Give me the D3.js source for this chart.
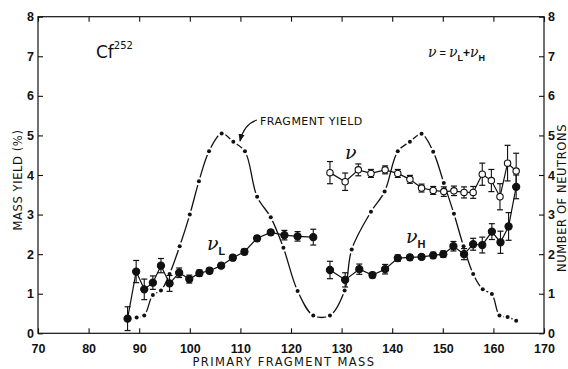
<!DOCTYPE html>
<html>
<head>
<meta charset="utf-8">
<script src="https://cdn.jsdelivr.net/npm/d3@7/dist/d3.min.js"></script>
<style>
  html, body { margin: 0; padding: 0; background: #fff; }
  svg { display: block; }
  text { font-family: "Liberation Sans", Arial, sans-serif; fill: #111; }
</style>
</head>
<body>
<svg id="chart" width="568" height="369"></svg>
<script>
// Fragment mass yield of Cf-252 (left scale, %)
const yieldMass = [89.5, 91, 92.7, 94.3, 96, 98, 100, 101.8, 103.8, 106.3, 108.6, 110.9, 113.3, 116, 118.5, 121.3,
  124.4, 127.7, 130.6, 132, 135.8, 138.5, 141.1, 143.5, 145.8, 148.1, 150.2, 152.2, 154.1, 156, 157.9, 159.7, 161.2, 162.8, 164.5];
const yieldValue = [0.4, 0.45, 0.97, 1.08, 1.5, 2.2, 3.0, 3.84, 4.6, 5.05, 4.84, 4.6, 3.45, 2.93, 2.16, 1.07,
  0.45, 0.45, 1.08, 2.12, 3.07, 3.58, 4.6, 4.84, 5.04, 4.59, 3.8, 3.02, 2.2, 1.5, 1.11, 0.99, 0.45, 0.41, 0.32];

// Neutrons from the light fragment (right scale)
const nuLMass = [87.7, 89.4, 91, 92.7, 94.3, 96, 97.9, 99.9, 101.9, 103.9, 106.2, 108.5, 110.8, 113.3, 116, 118.7, 121.3, 124.4];
const nuLValue = [0.37, 1.56, 1.11, 1.28, 1.71, 1.26, 1.53, 1.37, 1.52, 1.58, 1.71, 1.91, 2.06, 2.4, 2.55, 2.48, 2.45, 2.43];
const nuLError = [0.3, 0.28, 0.26, 0.17, 0.18, 0.2, 0.12, 0.1, 0.08, 0.07, 0.06, 0.07, 0.07, 0.07, 0.06, 0.12, 0.12, 0.2];

// Neutrons from the heavy fragment
const nuHMass = [127.7, 130.7, 133.5, 136.1, 138.6, 141.1, 143.5, 145.8, 148.1, 150.1, 152.1, 154.2, 156.0, 157.8, 159.7, 161.4, 163.0, 164.5];
const nuHValue = [1.6, 1.35, 1.62, 1.47, 1.62, 1.9, 1.92, 1.93, 1.97, 2.0, 2.2, 2.0, 2.25, 2.23, 2.57, 2.3, 2.7, 3.7];
const nuHError = [0.22, 0.18, 0.13, 0.07, 0.12, 0.08, 0.07, 0.06, 0.08, 0.08, 0.12, 0.14, 0.15, 0.2, 0.2, 0.28, 0.35, 0.3];

// Total neutrons per fission, nu = nuL + nuH
const nuMass = [127.7, 130.7, 133.3, 135.8, 138.6, 141.1, 143.5, 145.8, 148.1, 150.2, 152.2, 154.2, 156.0, 157.8, 159.6, 161.3, 162.8, 164.5];
const nuValue = [4.06, 3.83, 4.13, 4.04, 4.13, 4.04, 3.89, 3.67, 3.61, 3.58, 3.6, 3.56, 3.56, 4.02, 3.86, 3.45, 4.3, 4.1];
const nuError = [0.28, 0.22, 0.15, 0.1, 0.1, 0.1, 0.1, 0.1, 0.1, 0.12, 0.12, 0.14, 0.15, 0.28, 0.28, 0.33, 0.45, 0.45];

const massTicks = [70, 80, 90, 100, 110, 120, 130, 140, 150, 160, 170];
const valueTicks = [0, 1, 2, 3, 4, 5, 6, 7, 8];

const svg = d3.select("#chart");
const plotLeft = 38, plotRight = 544, plotTop = 16.7, plotBottom = 333.3;

const x = d3.scaleLinear().domain([70, 170]).range([plotLeft, plotRight]);
const y = d3.scaleLinear().domain([0, 8]).range([plotBottom, plotTop]);

// Axes with inward ticks on all four sides
function styleAxis(g) {
  g.select(".domain").remove();
  g.selectAll(".tick line").attr("stroke", "#111").attr("stroke-width", 1.1);
  g.selectAll(".tick text").style("font-size", "12.5px").style("font-weight", "bold")
    .style("font-family", "'Liberation Sans', Arial, sans-serif").attr("fill", "#111");
}
svg.append("g").attr("transform", `translate(0,${plotBottom})`)
  .call(d3.axisBottom(x).tickValues(massTicks).tickSize(-5).tickPadding(11).tickFormat(d3.format("d")))
  .call(styleAxis);
svg.append("g").attr("transform", `translate(0,${plotTop})`)
  .call(d3.axisTop(x).tickValues(massTicks).tickSize(-5).tickFormat(""))
  .call(styleAxis);
svg.append("g").attr("transform", `translate(${plotLeft},0)`)
  .call(d3.axisLeft(y).tickValues(valueTicks).tickSize(-5).tickPadding(4).tickFormat(d3.format("d")))
  .call(styleAxis);
svg.append("g").attr("transform", `translate(${plotRight},0)`)
  .call(d3.axisRight(y).tickValues(valueTicks).tickSize(-5).tickPadding(4).tickFormat(d3.format("d")))
  .call(styleAxis);

svg.append("rect").attr("x", plotLeft).attr("y", plotTop).attr("width", plotRight - plotLeft).attr("height", plotBottom - plotTop)
  .attr("fill", "none").attr("stroke", "#111").attr("stroke-width", 1.2);

// Fragment yield: smooth curve broken around each dot
const yieldPts = yieldMass.map((m, i) => [m, yieldValue[i]]);
const yieldLine = d3.line().x(d => x(d[0])).y(d => y(d[1])).curve(d3.curveCatmullRom.alpha(0.5));
svg.append("path").attr("d", yieldLine(yieldPts)).attr("fill", "none").attr("stroke", "#111").attr("stroke-width", 1.3);
svg.append("g").selectAll("circle").data(yieldPts).join("circle")
  .attr("cx", d => x(d[0])).attr("cy", d => y(d[1])).attr("r", 4).attr("fill", "#fff");
svg.append("g").selectAll("circle").data(yieldPts).join("circle")
  .attr("cx", d => x(d[0])).attr("cy", d => y(d[1])).attr("r", 2).attr("fill", "#111");

// Neutron series: connecting line, error bars and markers
function neutronSeries(mass, value, err, open) {
  const pts = mass.map((m, i) => ({ m, v: value[i], e: err[i] }));
  const g = svg.append("g");
  g.append("path").attr("d", d3.line().x(d => x(d.m)).y(d => y(d.v))(pts))
    .attr("fill", "none").attr("stroke", "#111").attr("stroke-width", 1.2);
  const eb = g.append("g").selectAll("g").data(pts).join("g");
  eb.append("line").attr("x1", d => x(d.m)).attr("x2", d => x(d.m))
    .attr("y1", d => y(d.v - d.e)).attr("y2", d => y(d.v + d.e)).attr("stroke", "#111").attr("stroke-width", 1.1);
  [-1, 1].forEach(s => {
    eb.append("line").attr("x1", d => x(d.m) - 3).attr("x2", d => x(d.m) + 3)
      .attr("y1", d => y(d.v + s * d.e)).attr("y2", d => y(d.v + s * d.e)).attr("stroke", "#111").attr("stroke-width", 1.2);
  });
  g.append("g").selectAll("circle").data(pts).join("circle")
    .attr("cx", d => x(d.m)).attr("cy", d => y(d.v)).attr("r", open ? 3.2 : 3.6)
    .attr("fill", open ? "#fff" : "#111").attr("stroke", "#111").attr("stroke-width", 1.1);
}
neutronSeries(nuLMass, nuLValue, nuLError, false);
neutronSeries(nuHMass, nuHValue, nuHError, false);
neutronSeries(nuMass, nuValue, nuError, true);

// Annotations
const nuFont = "'DejaVu Serif', serif";
const cf = svg.append("text").attr("x", 96).attr("y", 58).style("font-size", "17px").style("font-family", "'DejaVu Sans', sans-serif");
cf.append("tspan").text("Cf");
cf.append("tspan").attr("dy", -9).style("font-size", "10px").text("252");

const eq = svg.append("text").attr("x", 428).attr("y", 57).style("font-size", "14px");
eq.append("tspan").style("font-family", nuFont).style("font-style", "italic").text("ν");
eq.append("tspan").style("font-size", "11px").text(" = ");
eq.append("tspan").style("font-family", nuFont).style("font-style", "italic").text("ν");
eq.append("tspan").attr("dy", 4).style("font-size", "9px").style("font-weight", "bold").text("L");
eq.append("tspan").attr("dy", -4).style("font-size", "12px").style("font-weight", "bold").text("+");
eq.append("tspan").style("font-family", nuFont).style("font-style", "italic").text("ν");
eq.append("tspan").attr("dy", 4).style("font-size", "9px").style("font-weight", "bold").text("H");

function nuLabel(xp, yp, sub) {
  const t = svg.append("text").attr("x", xp).attr("y", yp).style("font-size", "19px");
  t.append("tspan").style("font-family", nuFont).style("font-style", "italic").text("ν");
  if (sub) t.append("tspan").attr("dy", 5).style("font-size", "11px").style("font-weight", "bold").text(sub);
}
nuLabel(345, 159, "");
nuLabel(207, 250, "L");
nuLabel(406, 243, "H");

svg.append("text").attr("x", 260).attr("y", 125).style("font-size", "11px").style("letter-spacing", "0.5px")
  .style("font-family", "'DejaVu Sans', sans-serif").text("FRAGMENT YIELD");
svg.append("defs").append("marker").attr("id", "arrow").attr("viewBox", "0 0 10 10").attr("refX", 9).attr("refY", 5)
  .attr("markerWidth", 7).attr("markerHeight", 7).attr("orient", "auto")
  .append("path").attr("d", "M0,1 L10,5 L0,9 Z").attr("fill", "#111");
svg.append("path").attr("d", "M257,120 Q244,124 240,141").attr("fill", "none").attr("stroke", "#111")
  .attr("stroke-width", 1.1).attr("marker-end", "url(#arrow)");

svg.append("text").attr("x", 284).attr("y", 366).attr("text-anchor", "middle")
  .style("font-size", "11.5px").style("letter-spacing", "1.4px").style("font-family", "'DejaVu Sans', sans-serif")
  .text("PRIMARY FRAGMENT MASS");
svg.append("text").attr("transform", "translate(22,180) rotate(-90)").attr("text-anchor", "middle")
  .style("font-size", "11.5px").style("letter-spacing", "0.6px").style("font-family", "'DejaVu Sans', sans-serif")
  .text("MASS YIELD (%)");
svg.append("text").attr("transform", "translate(566,198) rotate(-90)").attr("text-anchor", "middle")
  .style("font-size", "11.5px").style("letter-spacing", "0.6px").style("font-family", "'DejaVu Sans', sans-serif")
  .text("NUMBER OF NEUTRONS");
</script>
</body>
</html>
